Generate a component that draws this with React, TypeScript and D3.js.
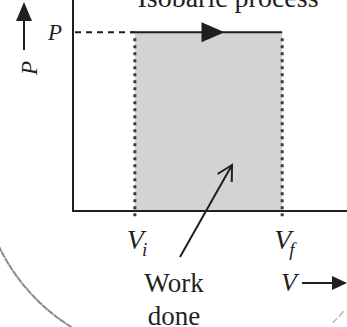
import React from 'react';
import * as d3 from 'd3';

// isobaric P-V diagram: one pressure, two volumes
const title = 'Isobaric process';
const volumes = [1, 2]; // V_i, V_f
const volumeSubs = ['i', 'f'];
const pressure = 1;
const workLabel = ['Work', 'done'];

const W = 347;
const H = 327;
const ink = '#1f1f1f';
const serif = '"Liberation Serif", "DejaVu Serif", serif';

const x = d3.scaleLinear().domain([0.58, 2.44]).range([73, 347]);
const y = d3.scaleLinear().domain([0, 1.18]).range([211, 0]);

function arrowHead(tx: number, ty: number, angle: number, len: number, half: number) {
  const ca = Math.cos(angle), sa = Math.sin(angle);
  const bx = tx - ca * len, by = ty - sa * len;
  return `M${tx},${ty}L${bx - sa * half},${by + ca * half}L${bx + sa * half},${by - ca * half}Z`;
}

export default function App() {
  const x0 = x(x.domain()[0]);
  const x1 = x(x.domain()[1]);
  const yBase = y(0);
  const yTop = y(y.domain()[1]);
  const yP = y(pressure);
  const xi = x(volumes[0]);
  const xf = x(volumes[1]);
  const xMid = (xi + xf) / 2;

  // work-done pointer
  const tail: [number, number] = [180, 257];
  const tip: [number, number] = [232, 165];
  const ang = Math.atan2(tip[1] - tail[1], tip[0] - tail[0]);
  const arm = 17;
  const spread = 0.5;
  const armA = [tip[0] - arm * Math.cos(ang - spread), tip[1] - arm * Math.sin(ang - spread)];
  const armB = [tip[0] - arm * Math.cos(ang + spread), tip[1] - arm * Math.sin(ang + spread)];

  const ring = d3.arc<any>()({
    innerRadius: 193,
    outerRadius: 193,
    startAngle: (205 * Math.PI) / 180,
    endAngle: (245 * Math.PI) / 180,
  });
  const ringR = d3.arc<any>()({
    innerRadius: 226,
    outerRadius: 226,
    startAngle: (131 * Math.PI) / 180,
    endAngle: (135 * Math.PI) / 180,
  });

  return (
    <svg
      width={W}
      height={H}
      style={{ position: 'absolute', left: 0, top: 0, background: '#fff' }}
    >
      {/* magnifier rim */}
      <g transform="translate(173,163)" fill="none" strokeDasharray="7 3 2 3">
        <path d={ring || ''} stroke="#8a8a8a" strokeWidth={2} />
        <path d={ringR || ''} stroke="#b5b5b5" strokeWidth={1.5} />
      </g>

      <text x={228} y={7} textAnchor="middle" fontFamily={serif} fontSize={28} fill={ink}>
        {title}
      </text>

      {/* work area */}
      <rect x={xi} y={yP} width={xf - xi} height={yBase - yP} fill="#d2d3d5" />
      {volumes.map((v, k) => (
        <line
          key={k}
          x1={x(v)}
          x2={x(v)}
          y1={yP + 6}
          y2={yBase + 7}
          stroke="#3a3a3a"
          strokeWidth={3}
          strokeDasharray="3 4"
        />
      ))}

      {/* axes */}
      <line x1={x0} x2={x0} y1={yTop} y2={yBase + 1} stroke={ink} strokeWidth={2} />
      <line x1={x0} x2={x1} y1={yBase} y2={yBase} stroke={ink} strokeWidth={2} />

      {/* pressure level */}
      <line x1={x0 + 2} x2={xi} y1={yP} y2={yP} stroke={ink} strokeWidth={2} strokeDasharray="6 5" />
      <line x1={xi - 4} x2={xf} y1={yP} y2={yP} stroke={ink} strokeWidth={2} />
      <path d={arrowHead(xMid + 16, yP, 0, 23, 10)} fill={ink} />

      {/* P tick label */}
      <text x={x0 - 11} y={yP + 8} textAnchor="end" fontFamily={serif} fontStyle="italic" fontSize={23} fill={ink}>
        P
      </text>

      {/* P axis label with arrow */}
      <line x1={24} x2={24} y1={50} y2={18} stroke={ink} strokeWidth={2} />
      <path d={arrowHead(24, 2, Math.PI / 2 * 3, 19, 8)} fill={ink} />
      <text
        transform="translate(37,68) rotate(-90)"
        textAnchor="middle"
        fontFamily={serif}
        fontStyle="italic"
        fontSize={23}
        fill={ink}
      >
        P
      </text>

      {/* volume labels */}
      {volumes.map((v, k) => (
        <text
          key={k}
          x={x(v) - 8}
          y={249}
          fontFamily={serif}
          fontStyle="italic"
          fontSize={28}
          fill={ink}
        >
          V
          <tspan fontSize={19} dy={7} dx={-2}>
            {volumeSubs[k]}
          </tspan>
        </text>
      ))}

      {/* V axis label with arrow */}
      <text x={281} y={291} fontFamily={serif} fontStyle="italic" fontSize={26} fill={ink}>
        V
      </text>
      <line x1={302} x2={334} y1={283} y2={283} stroke={ink} strokeWidth={2} />
      <path d={arrowHead(347, 283, 0, 15, 7)} fill={ink} />

      {/* work done pointer */}
      <line x1={tail[0]} y1={tail[1]} x2={tip[0]} y2={tip[1]} stroke={ink} strokeWidth={2} />
      <polyline
        points={`${armA[0]},${armA[1]} ${tip[0]},${tip[1]} ${armB[0]},${armB[1]}`}
        fill="none"
        stroke={ink}
        strokeWidth={2}
      />
      {workLabel.map((w, k) => (
        <text
          key={k}
          x={174}
          y={292 + k * 33}
          textAnchor="middle"
          fontFamily={serif}
          fontSize={27}
          fill={ink}
        >
          {w}
        </text>
      ))}
    </svg>
  );
}
